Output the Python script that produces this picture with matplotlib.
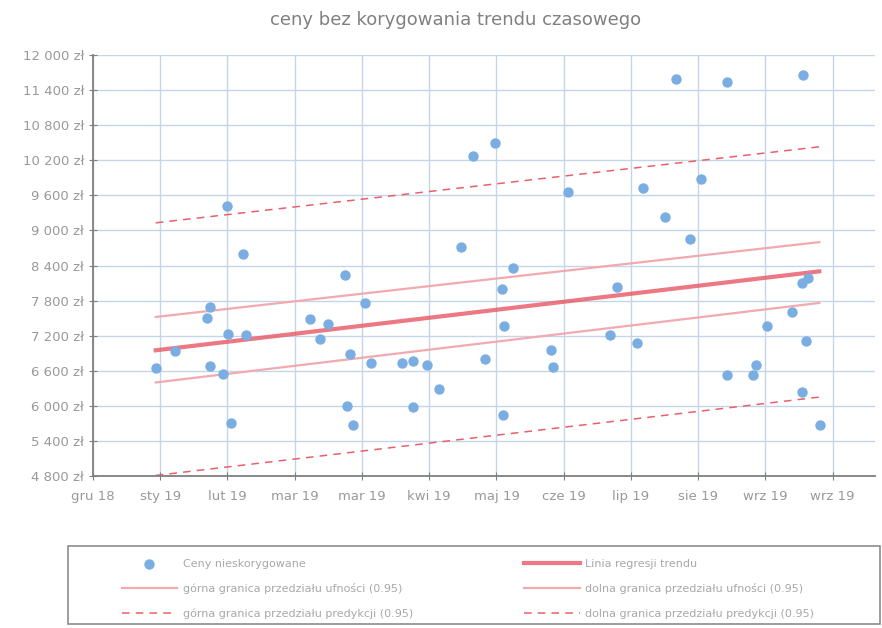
import matplotlib
matplotlib.use('Agg')
import matplotlib.pyplot as plt
from matplotlib.patches import Rectangle
from matplotlib.ticker import FuncFormatter

# dni od poczatku osi (gru 18) i ceny w zl
days = [28.1, 36.6, 50.8, 52.2, 52.2, 58.0, 59.8, 60.2, 61.6, 66.9, 68.2,
        96.8, 101.2, 104.8, 112.4, 114.6, 113.3, 116.0, 121.3, 124.0,
        137.8, 142.7, 149.0, 154.3, 142.7, 164.1, 169.5, 174.8, 179.3,
        182.4, 183.3, 187.3, 182.9, 204.3, 205.2, 211.9, 230.6, 233.7,
        242.6, 245.3, 255.1, 260.0, 266.3, 271.2, 282.8, 282.8, 295.7,
        294.4, 300.6, 311.8, 316.2, 316.2, 316.7, 318.9, 318.0, 324.3]
prices = [6647, 6938, 7502, 7690, 6681, 6544, 9418, 7228, 5706, 8597, 7211,
          7485, 7143, 7400, 8238, 6886, 5997, 5672, 7759, 6733,
          6733, 6767, 6698, 6288, 5980, 8716, 10273, 6801, 10495,
          7998, 7365, 8357, 5843, 6955, 6664, 9657, 7211, 8032,
          7075, 9725, 9229, 11590, 8853, 9879, 11538, 6527, 6698,
          6527, 7365, 7605, 6237, 8101, 11658, 8186, 7109, 5672]

line_x = [28, 324]
trend = [6950, 8300]
conf_upper = [7520, 8800]
conf_lower = [6400, 7760]
pred_upper = [9130, 10430]
pred_lower = [4810, 6150]

tick_days = [0, 30, 60, 90, 120, 150, 180, 210, 240, 270, 300, 330]
tick_labels = ['gru 18', 'sty 19', 'lut 19', 'mar 19', 'mar 19', 'kwi 19',
               'maj 19', 'cze 19', 'lip 19', 'sie 19', 'wrz 19', 'wrz 19']

fig = plt.figure(figsize=(8.82, 6.28), dpi=100)
ax = fig.add_axes([0.1054, 0.242, 0.887, 0.6704])

grid_c = '#c5d5e8'
pink = '#f2a9b0'
red = '#e8606c'

s1 = ax.scatter(days, prices, s=42, color='#7aaee2', zorder=3,
                label='Ceny nieskorygowane')
l1, = ax.plot(line_x, trend, color=red, lw=3, alpha=0.85, zorder=2,
              label='Linia regresji trendu')
l2, = ax.plot(line_x, conf_upper, color=pink, lw=1.6, zorder=2,
              label='górna granica przedziału ufności (0.95)')
l3, = ax.plot(line_x, conf_lower, color=pink, lw=1.6, zorder=2,
              label='dolna granica przedziału ufności (0.95)')
l4, = ax.plot(line_x, pred_upper, color=red, lw=1.1, ls=(0, (5, 4)), zorder=2,
              label='górna granica przedziału predykcji (0.95)')
l5, = ax.plot(line_x, pred_lower, color=red, lw=1.1, ls=(0, (5, 4)), zorder=2,
              label='dolna granica przedziału predykcji (0.95)')

ax.set_xlim(0, 349)
ax.set_ylim(4800, 12000)
ax.set_yticks(range(4800, 12001, 600))
ax.yaxis.set_major_formatter(FuncFormatter(
    lambda v, p: '{:,} zł'.format(int(v)).replace(',', ' ')))
ax.set_xticks(tick_days)
ax.set_xticklabels(tick_labels)

ax.grid(True, color=grid_c, lw=1)
ax.set_axisbelow(True)
for side in ['top', 'right']:
    ax.spines[side].set_visible(False)
for side in ['left', 'bottom']:
    ax.spines[side].set_color('#7f7f7f')
    ax.spines[side].set_linewidth(1.3)
ax.tick_params(direction='inout', length=6, color='#7f7f7f',
               labelcolor='#999999', labelsize=9.5)
ax.tick_params(axis='x', pad=7)

fig.text(0.516, 0.968, 'ceny bez korygowania trendu czasowego',
         ha='center', va='center', fontsize=13, color='#808080')

# ramka legendy
fig.patches.append(Rectangle((0.077, 0.006), 0.921, 0.124, fill=False,
                             edgecolor='#8c8c8c', lw=1.2,
                             transform=fig.transFigure, figure=fig))

leg = fig.legend(handles=[s1, l2, l4, l1, l3, l5], ncol=2,
                 loc='upper left', bbox_to_anchor=(0.138, 0.110),
                 bbox_transform=fig.transFigure, fontsize=8,
                 frameon=False, labelcolor='#a8a8a8', handlelength=5.0,
                 handletextpad=0.5, columnspacing=10.0,
                 borderpad=0, labelspacing=1.3, borderaxespad=0)

fig.savefig('out.png', dpi=100)
